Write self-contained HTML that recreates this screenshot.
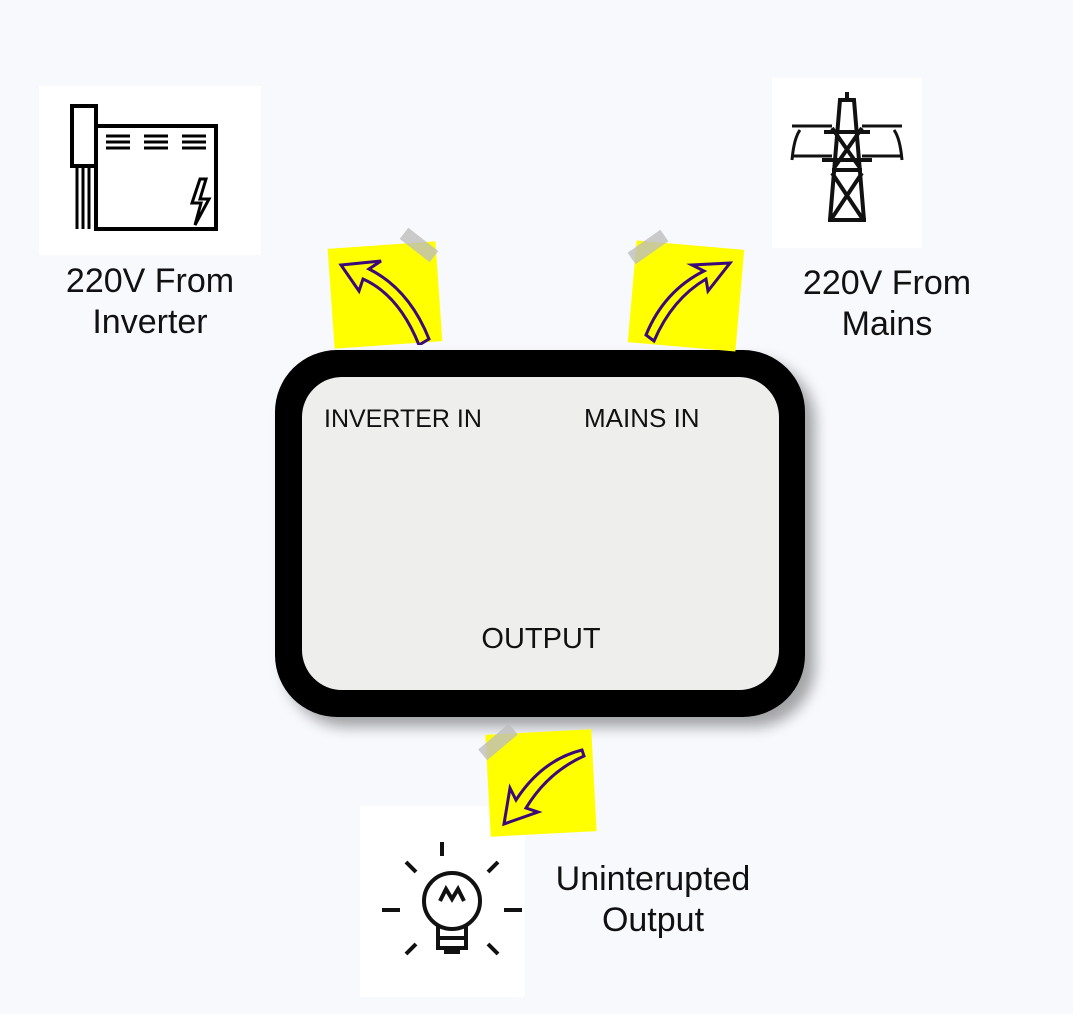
<!DOCTYPE html>
<html><head><style>
body{margin:0;width:1073px;height:1014px;background:#f8f9fd;position:relative;overflow:hidden;font-family:"Liberation Sans",sans-serif;}
.t{position:absolute;color:#111;text-align:center;}
.w{position:absolute;background:#fff;}
</style></head><body>
<div class="w" style="left:39px;top:86px;width:222px;height:169px"></div>
<svg style="position:absolute;left:39px;top:86px" width="222" height="169" fill="none" stroke="#000" stroke-width="4">
<rect x="33" y="20" width="24" height="60"/><rect x="57" y="40" width="120" height="103"/>
<path d="M38 80v63M44 80v63M50 80v63" stroke-width="3"/>
<path d="M67 50h24M67 56h24M67 62h24M105 50h24M105 56h24M105 62h24M143 50h24M143 56h24M143 62h24" stroke-width="3"/>
<path d="M161 93l-8 24h9l-6 22 14-26h-9l6-20z" stroke-width="3"/>
</svg>
<div class="w" style="left:772px;top:78px;width:150px;height:170px"></div>
<svg style="position:absolute;left:772px;top:78px" width="150" height="170" fill="none" stroke="#111" stroke-width="4">
<path d="M58 142L68 22h14l10 120M75 14v8M52 54h46M50 82h50M60 50l28 40M90 50l-28 40M60 95l30 45M90 95l-30 45M60 92h30M56 142h38"/>
<path d="M28 52q-6 8-8 30M122 52q6 8 8 30M20 48h40M90 48h40M20 78h40M90 78h40" stroke-width="3"/>
</svg>
<div class="w" style="left:360px;top:806px;width:165px;height:191px"></div>
<svg style="position:absolute;left:360px;top:806px" width="165" height="191" fill="none" stroke="#111" stroke-width="4">
<circle cx="92" cy="95" r="28"/><path d="M78 120v22h28v-22M78 132h28M84 146h16M80 95l6-12 6 10 6-10 6 12M82 36v14M46 56l10 10M138 56l-10 10M22 104h18M144 104h18M46 148l10-10M138 148l-10-10"/>
</svg>
<div class="t" style="left:20px;top:261px;width:260px;font-size:34px;line-height:41px">220V From<br>Inverter</div>
<div class="t" style="left:757px;top:263px;width:260px;font-size:34px;line-height:41px">220V From<br>Mains</div>
<div class="t" style="left:513px;top:859px;width:280px;font-size:34px;line-height:41px">Uninterupted<br>Output</div>
<div style="position:absolute;left:275px;top:350px;width:530px;height:367px;background:#000;border-radius:62px;box-shadow:10px 10px 14px rgba(0,0,0,.35)"></div>
<div style="position:absolute;left:302px;top:377px;width:477px;height:313px;background:#eeeeec;border-radius:40px"></div>
<div class="t" style="left:324px;top:405px;font-size:25px;text-align:left">INVERTER IN</div>
<div class="t" style="left:584px;top:403px;font-size:26px;text-align:left">MAINS IN</div>
<div class="t" style="left:441px;top:623px;width:200px;font-size:29px">OUTPUT</div>
<div style="position:absolute;left:331px;top:245px;width:108px;height:100px;background:#ffff00;transform:rotate(-4deg)"></div>
<div style="position:absolute;left:400px;top:238px;width:38px;height:14px;background:rgba(190,190,190,.8);transform:rotate(38deg)"></div>
<svg style="position:absolute;left:331px;top:245px" width="110" height="100" fill="none" stroke="#3a0a7a" stroke-width="3"><path d="M10 20l40-4-12 8q40 20 60 70l-10 6q-20-50-56-66l-4 12z"/></svg>
<div style="position:absolute;left:632px;top:245px;width:108px;height:102px;background:#ffff00;transform:rotate(5deg)"></div>
<div style="position:absolute;left:628px;top:240px;width:40px;height:14px;background:rgba(190,190,190,.8);transform:rotate(-35deg)"></div>
<svg style="position:absolute;left:632px;top:245px" width="110" height="100" fill="none" stroke="#3a0a7a" stroke-width="3"><path d="M98 18l-38 2 12 6q-40 20-58 64l8 6q18-42 52-62l2 12z"/></svg>
<div style="position:absolute;left:488px;top:732px;width:106px;height:102px;background:#ffff00;transform:rotate(-3deg)"></div>
<div style="position:absolute;left:478px;top:735px;width:40px;height:14px;background:rgba(190,190,190,.8);transform:rotate(-40deg)"></div>
<svg style="position:absolute;left:488px;top:732px" width="110" height="100" fill="none" stroke="#3a0a7a" stroke-width="3"><path d="M94 18q-40 10-66 50l-6-12-6 36 34-12-12-4q22-36 58-52z"/></svg>
</body></html>
